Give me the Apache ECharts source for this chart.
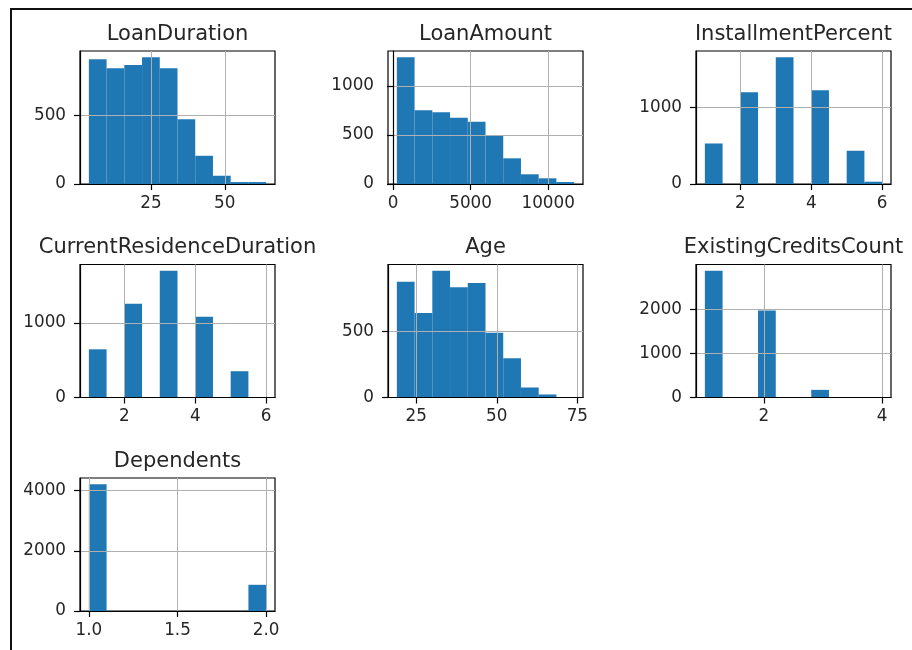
<!DOCTYPE html>
<html>
<head>
<meta charset="utf-8">
<title>Credit histograms</title>
<script src="https://cdn.jsdelivr.net/npm/echarts@6/dist/echarts.min.js"></script>
<style>
  html, body { margin: 0; padding: 0; background: #fff; }
  #chart { position: absolute; left: 0; top: 0; width: 912px; height: 650px; }
  #frame {
    position: absolute; left: 10px; top: 8px; width: 902px; height: 642px;
    border-top: 2px solid #111; border-left: 2px solid #111;
    box-sizing: border-box; pointer-events: none;
  }
</style>
</head>
<body>
<div id="chart"></div>
<div id="frame"></div>
<script>
// histogram data: 10 bins per column (bin edges + counts)
const titles = ['LoanDuration', 'LoanAmount', 'InstallmentPercent', 'CurrentResidenceDuration', 'Age', 'ExistingCreditsCount', 'Dependents'];

const loanDurationEdges = [4, 10, 16, 22, 28, 34, 40, 46, 52, 58, 64];
const loanDurationCounts = [906, 840, 865, 920, 840, 471, 205, 60, 14, 14];
const loanDurationXTicks = [25, 50];
const loanDurationYTicks = [0, 500];

const loanAmountEdges = [250, 1392, 2534, 3676, 4818, 5960, 7102, 8244, 9386, 10528, 11670];
const loanAmountCounts = [1292, 751, 731, 677, 636, 493, 262, 99, 58, 20];
const loanAmountXTicks = [0, 5000, 10000];
const loanAmountYTicks = [0, 500, 1000];

const installmentEdges = [1, 1.5, 2, 2.5, 3, 3.5, 4, 4.5, 5, 5.5, 6];
const installmentCounts = [530, 0, 1200, 0, 1657, 0, 1226, 0, 435, 30];
const installmentXTicks = [2, 4, 6];
const installmentYTicks = [0, 1000];

const residenceEdges = [1, 1.5, 2, 2.5, 3, 3.5, 4, 4.5, 5, 5.5, 6];
const residenceCounts = [647, 0, 1259, 0, 1701, 0, 1085, 0, 353, 3];
const residenceXTicks = [2, 4, 6];
const residenceYTicks = [0, 1000];

const ageEdges = [19, 24.5, 30, 35.5, 41, 46.5, 52, 57.5, 63, 68.5, 74];
const ageCounts = [879, 641, 962, 838, 869, 492, 298, 76, 23, 3];
const ageXTicks = [25, 50, 75];
const ageYTicks = [0, 500];

const creditsEdges = [1, 1.3, 1.6, 1.9, 2.2, 2.5, 2.8, 3.1, 3.4, 3.7, 4];
const creditsCounts = [2886, 0, 0, 1985, 0, 0, 174, 0, 0, 5];
const creditsXTicks = [2, 4];
const creditsYTicks = [0, 1000, 2000];

const dependentsEdges = [1, 1.1, 1.2, 1.3, 1.4, 1.5, 1.6, 1.7, 1.8, 1.9, 2];
const dependentsCounts = [4210, 0, 0, 0, 0, 0, 0, 0, 0, 871];
const dependentsXTicks = [1, 1.5, 2];
const dependentsYTicks = [0, 2000, 4000];

const edgesList = [loanDurationEdges, loanAmountEdges, installmentEdges, residenceEdges, ageEdges, creditsEdges, dependentsEdges];
const countsList = [loanDurationCounts, loanAmountCounts, installmentCounts, residenceCounts, ageCounts, creditsCounts, dependentsCounts];
const xTicksList = [loanDurationXTicks, loanAmountXTicks, installmentXTicks, residenceXTicks, ageXTicks, creditsXTicks, dependentsXTicks];
const yTicksList = [loanDurationYTicks, loanAmountYTicks, installmentYTicks, residenceYTicks, ageYTicks, creditsYTicks, dependentsYTicks];

// layout of the 3x3 subplot grid (pixels)
const colLeft = [80, 388, 696];
const rowTop = [51, 264.5, 478];
const plotW = 195;
const plotH = 133;

const textColor = '#262626';
const font = 'DejaVu Sans';
const lineStyle = { color: '#000', width: 1.2 };

const grids = [], xAxes = [], yAxes = [], series = [], titleList = [];

titles.forEach(function (name, i) {
  const left = colLeft[i % 3];
  const top = rowTop[Math.floor(i / 3)];
  const edges = edgesList[i];
  const counts = countsList[i];
  // matplotlib style limits: 5% margin on x, 5% headroom on y
  const span = edges[edges.length - 1] - edges[0];
  const xmin = edges[0] - span * 0.05;
  const xmax = edges[edges.length - 1] + span * 0.05;
  const ymax = Math.max.apply(null, counts) * 1.05;
  const oneDecimal = i === 6;

  grids.push({ left: left, top: top, width: plotW, height: plotH, show: true, borderColor: '#000', borderWidth: 1.2, backgroundColor: 'transparent' });

  xAxes.push({
    gridIndex: i, type: 'value', min: xmin, max: xmax, z: 3,
    axisLine: { show: true, onZero: false, lineStyle: lineStyle },
    axisTick: { show: true, customValues: xTicksList[i], length: 6, lineStyle: lineStyle },
    axisLabel: {
      customValues: xTicksList[i], margin: 11, fontSize: 16.8, color: textColor, fontFamily: font,
      formatter: function (v) { return oneDecimal ? Number(v).toFixed(1) : String(v); }
    },
    splitLine: { show: true, lineStyle: { color: '#b0b0b0', width: 1 } }
  });

  yAxes.push({
    gridIndex: i, type: 'value', min: 0, max: ymax, z: 3,
    axisLine: { show: true, lineStyle: lineStyle },
    axisTick: { show: true, customValues: yTicksList[i], length: 6, lineStyle: lineStyle },
    axisLabel: {
      customValues: yTicksList[i], margin: 14, fontSize: 16.8, color: textColor, fontFamily: font,
      formatter: function (v) { return String(v); }
    },
    splitLine: { show: true, lineStyle: { color: '#b0b0b0', width: 1 } }
  });

  const data = counts.map(function (c, k) { return [edges[k], edges[k + 1], c]; });
  series.push({
    type: 'custom', xAxisIndex: i, yAxisIndex: i, z: 1,
    encode: { x: [0, 1], y: 2 },
    data: data,
    renderItem: function (params, api) {
      const p0 = api.coord([api.value(0), api.value(2)]);
      const p1 = api.coord([api.value(1), 0]);
      return {
        type: 'rect',
        shape: { x: p0[0], y: p0[1], width: p1[0] - p0[0], height: p1[1] - p0[1] },
        style: { fill: '#1f77b4' }
      };
    }
  });

  titleList.push({
    text: name, left: left + plotW / 2, top: top - 27, textAlign: 'center', padding: 0,
    textStyle: { fontSize: 21, fontWeight: 'normal', color: textColor, fontFamily: font }
  });
});

const myChart = echarts.init(document.getElementById('chart'));
myChart.setOption({
  animation: false,
  backgroundColor: '#fff',
  title: titleList,
  grid: grids,
  xAxis: xAxes,
  yAxis: yAxes,
  series: series
});
window.addEventListener('resize', function () {
  myChart.resize();
});
</script>
</body>
</html>
